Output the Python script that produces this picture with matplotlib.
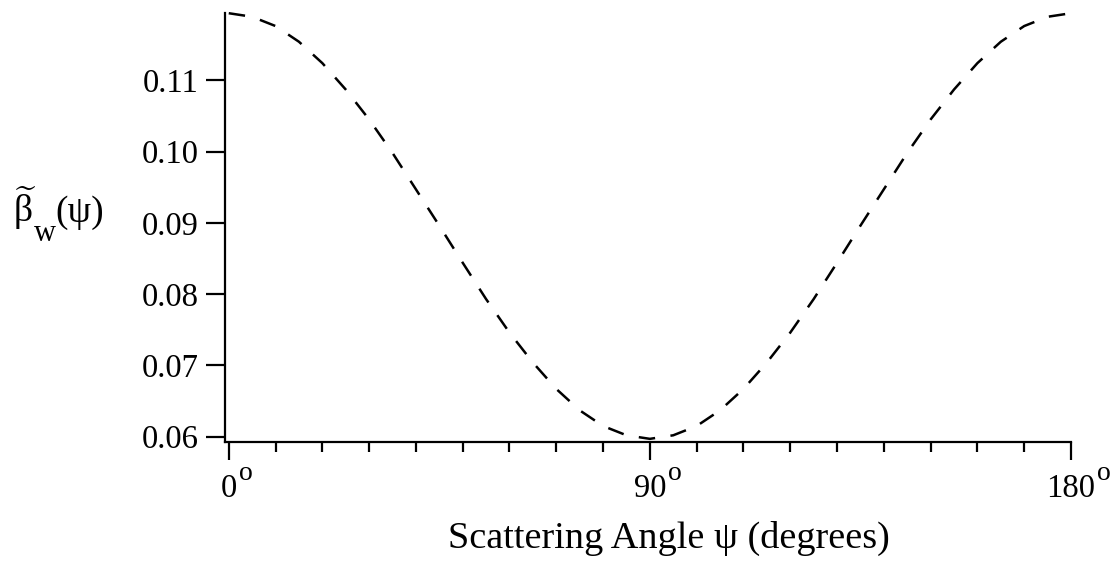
import matplotlib
matplotlib.use('Agg')
import matplotlib.pyplot as plt
from matplotlib.ticker import MultipleLocator
import matplotlib.transforms as mtransforms

# ---- data ----
angle_deg = [0, 5, 10, 15, 20, 25, 30, 35, 40, 45, 50, 55, 60, 65, 70, 75, 80, 85, 90,
             95, 100, 105, 110, 115, 120, 125, 130, 135, 140, 145, 150, 155, 160, 165,
             170, 175, 180]
beta_w = [0.1194, 0.1189, 0.1176, 0.1154, 0.1124, 0.1087, 0.1045, 0.0998, 0.0947,
          0.0896, 0.0844, 0.0793, 0.0746, 0.0704, 0.0667, 0.0637, 0.0615, 0.0602,
          0.0597,
          0.0602, 0.0615, 0.0637, 0.0667, 0.0704, 0.0746, 0.0793, 0.0844, 0.0896,
          0.0947, 0.0998, 0.1045, 0.1087, 0.1124, 0.1154, 0.1176, 0.1189, 0.1194]
x_major = [0, 90, 180]
x_major_labels = ['0', '90', '180']
y_ticks = [0.06, 0.07, 0.08, 0.09, 0.10, 0.11]
y_tick_labels = ['0.06', '0.07', '0.08', '0.09', '0.10', '0.11']
x_label = 'Scattering Angle \u03c8 (degrees)'
y_label_main = r'$\widetilde{\mathrm{\beta}}$'
y_label_sub = 'w'
y_label_arg = '(\u03c8)'

plt.rcParams['font.family'] = ['Liberation Serif', 'DejaVu Serif']
plt.rcParams['mathtext.fontset'] = 'custom'
plt.rcParams['mathtext.rm'] = 'Liberation Serif'
plt.rcParams['mathtext.it'] = 'Liberation Serif:italic'

W, H = 1119, 563
fig = plt.figure(figsize=(W / 100, H / 100), dpi=100)
ax_l, ax_r, ax_b, ax_t = 225, 1071, 441.7, 12.5
ax = fig.add_axes([ax_l / W, 1 - ax_b / H, (ax_r - ax_l) / W, (ax_b - ax_t) / H])

ax.plot(angle_deg, beta_w, color='black', lw=1.8, linestyle=(0, (6.6, 6.2)),
        clip_on=False)
ax.set_xlim(-0.8, 180)
ax.set_ylim(0.0593, 0.1195)

for s in ['top', 'right']:
    ax.spines[s].set_visible(False)
for s in ['left', 'bottom']:
    ax.spines[s].set_linewidth(1.6)

ax.set_xticks(x_major)
ax.set_xticklabels([''] * len(x_major))
ax.xaxis.set_minor_locator(MultipleLocator(10))
ax.tick_params(axis='x', which='major', direction='out', length=13, width=1.6)
ax.tick_params(axis='x', which='minor', direction='out', length=7, width=1.6)

ax.set_yticks(y_ticks)
ax.set_yticklabels(y_tick_labels, fontsize=23.5)
ax.tick_params(axis='y', direction='out', length=14, width=1.6, pad=5)

# x tick labels: number centred on tick, superscript "o" to the right
trans = mtransforms.blended_transform_factory(ax.transData, ax.transAxes)
base_frac = (ax_b - 497) / (ax_b - ax_t)
num_texts = []
for v, s in zip(x_major, x_major_labels):
    t = ax.text(v, base_frac, s, transform=trans, ha='center', va='baseline',
                fontsize=23.5, clip_on=False)
    num_texts.append(t)

fig.text(669 / W, (H - 548) / H, x_label, ha='center', va='baseline', fontsize=27.5)

# y label built from pieces: beta-tilde, subscript w, (psi)
t_beta = fig.text(13 / W, (H - 222) / H, y_label_main, ha='left', va='baseline',
                  fontsize=27)

fig.canvas.draw()
renderer = fig.canvas.get_renderer()
for t in num_texts:
    bb = t.get_window_extent(renderer)
    fig.text((bb.x1 + 2) / W, (H - 480) / H, 'o', ha='left', va='baseline',
             fontsize=20)

bb = t_beta.get_window_extent(renderer)
t_w = fig.text((bb.x1 - 3) / W, (H - 241) / H, y_label_sub, ha='left',
               va='baseline', fontsize=22)
fig.canvas.draw()
bbw = t_w.get_window_extent(renderer)
fig.text((bbw.x1 + 0) / W, (H - 222) / H, y_label_arg, ha='left', va='baseline',
         fontsize=27)

fig.savefig('out.png', dpi=100)
